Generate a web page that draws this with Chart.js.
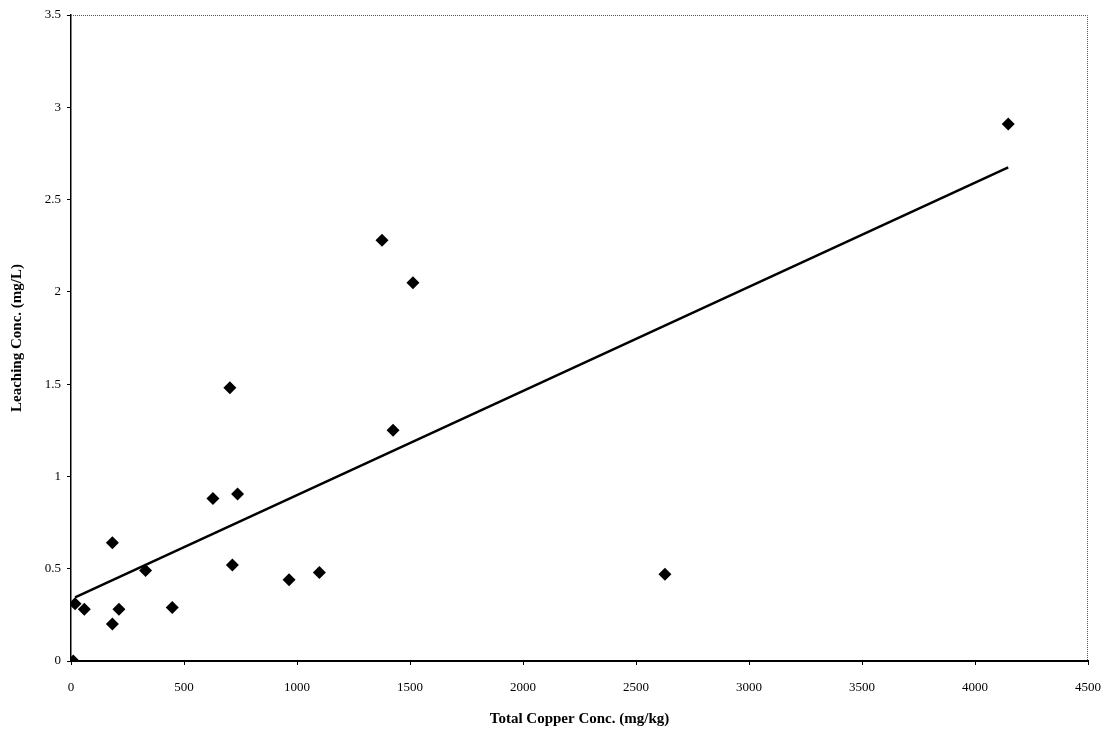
<!DOCTYPE html>
<html>
<head>
<meta charset="utf-8">
<script src="https://cdn.jsdelivr.net/npm/chart.js@4/dist/chart.umd.min.js"></script>
<style>
  html, body { margin: 0; padding: 0; background: #fff; }
  #wrap { width: 1111px; height: 733px; }
</style>
</head>
<body>
<div id="wrap"><canvas id="c"></canvas></div>
<script>
  // total copper (mg/kg) vs leaching (mg/L)
  const copperX = [10, 18, 59, 183, 183, 212, 330, 448, 628, 703, 714, 737, 965, 1099, 1376, 1425, 1513, 2628, 4147];
  const leachY = [0, 0.31, 0.28, 0.20, 0.64, 0.28, 0.49, 0.29, 0.88, 1.48, 0.52, 0.905, 0.44, 0.48, 2.28, 1.25, 2.05, 0.47, 2.91];
  const trendX = [18, 4147];
  const trendY = [0.345, 2.675];

  const xTicks = [0, 500, 1000, 1500, 2000, 2500, 3000, 3500, 4000, 4500];
  const yTicks = [0, 0.5, 1, 1.5, 2, 2.5, 3, 3.5];

  const serif = "'Liberation Serif', 'DejaVu Serif', serif";

  // dotted top/right frame like the original plot area
  const frame = {
    id: "frame",
    afterDraw(chart) {
      const a = chart.chartArea, ctx = chart.ctx;
      ctx.save();
      ctx.strokeStyle = "#555";
      ctx.lineWidth = 1;
      ctx.setLineDash([1, 1]);
      ctx.beginPath();
      ctx.moveTo(a.left, a.top + 0.5);
      ctx.lineTo(a.right - 0.5, a.top + 0.5);
      ctx.lineTo(a.right - 0.5, a.bottom);
      ctx.stroke();
      ctx.restore();
    }
  };

  new Chart(document.getElementById("c"), {
    type: "scatter",
    data: {
      datasets: [
        {
          label: "Trend",
          type: "line",
          data: trendX.map((x, i) => ({ x, y: trendY[i] })),
          borderColor: "#000",
          borderWidth: 2.5,
          pointRadius: 0,
          fill: false
        },
        {
          label: "Samples",
          data: copperX.map((x, i) => ({ x, y: leachY[i] })),
          pointStyle: "rectRot",
          pointRadius: 6.5,
          backgroundColor: "#000",
          borderColor: "#000",
          borderWidth: 0
        }
      ]
    },
    options: {
      responsive: true,
      maintainAspectRatio: false,
      animation: false,
      layout: { padding: { left: 6, top: 15, right: 23, bottom: 1 } },
      plugins: {
        legend: { display: false },
        tooltip: { enabled: false }
      },
      scales: {
        x: {
          type: "linear",
          min: 0,
          max: 4500,
          afterBuildTicks: s => { s.ticks = xTicks.map(v => ({ value: v })); },
          afterFit: s => { s.height = 71; s.paddingRight = 8; s.paddingLeft = 8; },
          ticks: {
            color: "#000",
            padding: 15,
            maxRotation: 0,
            callback: v => String(v),
            font: { family: serif, size: 13 }
          },
          grid: { drawOnChartArea: false, drawTicks: true, tickLength: 4, color: "#000" },
          border: { display: true, color: "#000", width: 2 },
          title: {
            display: true,
            text: "Total Copper Conc. (mg/kg)",
            color: "#000",
            font: { family: serif, size: 15, weight: "bold" },
            padding: { top: 10, bottom: 4 }
          }
        },
        y: {
          type: "linear",
          min: 0,
          max: 3.5,
          afterBuildTicks: s => { s.ticks = yTicks.map(v => ({ value: v })); },
          afterFit: s => { s.width = 65; },
          ticks: {
            color: "#000",
            padding: 6,
            callback: v => String(v),
            font: { family: serif, size: 13 }
          },
          grid: { drawOnChartArea: false, drawTicks: true, tickLength: 4, color: "#000" },
          border: { display: true, color: "#000", width: 1.5 },
          title: {
            display: true,
            text: "Leaching Conc. (mg/L)",
            color: "#000",
            font: { family: serif, size: 15, weight: "bold" },
            padding: { top: 2, bottom: 8 }
          }
        }
      }
    },
    plugins: [frame]
  });
</script>
</body>
</html>
